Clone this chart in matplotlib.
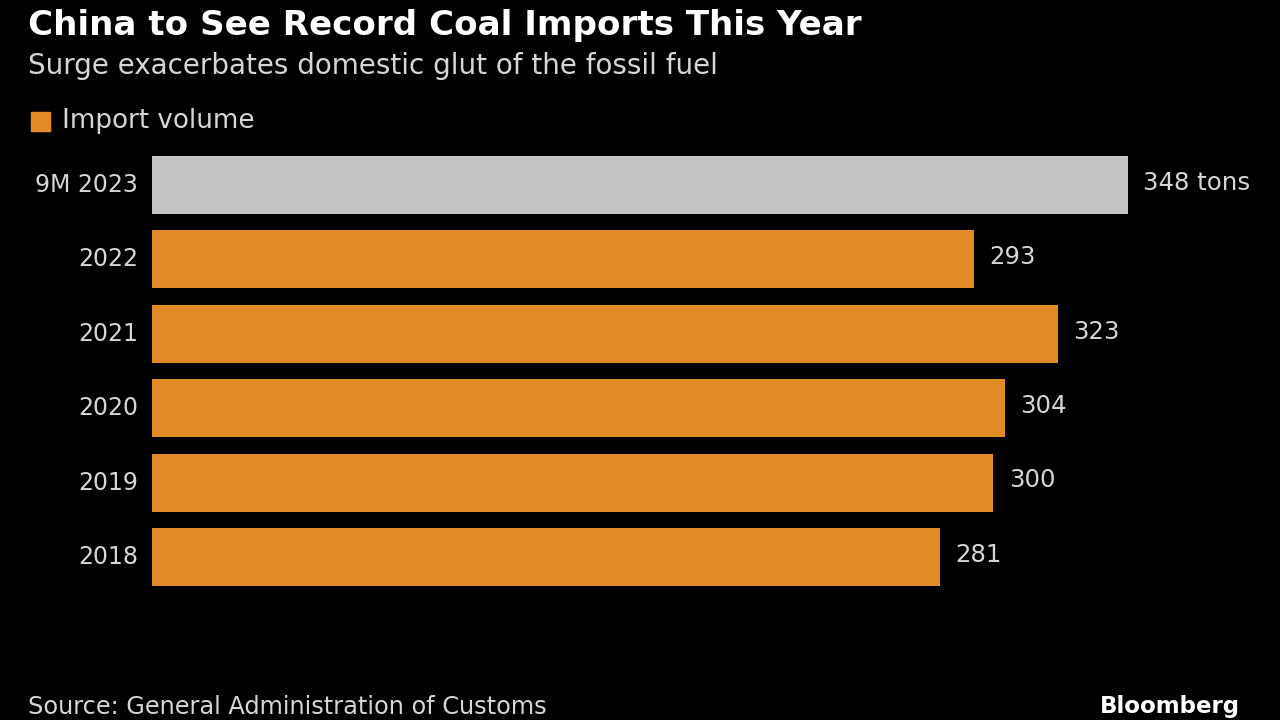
import matplotlib.pyplot as plt
from matplotlib.patches import Rectangle

# data
years = ["9M 2023", "2022", "2021", "2020", "2019", "2018"]
imports = [348, 293, 323, 304, 300, 281]
value_labels = ["348 tons", "293", "323", "304", "300", "281"]

orange = "#E08B26"
gray = "#C4C3C3"
bg = "#000000"
txt = "#D6D6D6"
font = ["DejaVu Sans"]

fig = plt.figure(figsize=(12.8, 7.2), dpi=100, facecolor=bg)
ax = fig.add_axes([152 / 1280, 1 - 594.2 / 720, 976 / 1280, 446.4 / 720])
ax.set_facecolor(bg)

colors = [gray] + [orange] * (len(years) - 1)
ypos = list(range(len(years)))
ax.barh(ypos, imports, height=0.78, color=colors)

for y, v, lab in zip(ypos, imports, value_labels):
    ax.text(v + 5.5, y - 0.03, lab, va="center", ha="left", color=txt,
            fontsize=17.6, family=font)

ax.set_xlim(0, 348)
ax.set_ylim(len(years) - 0.5, -0.5)
ax.set_yticks(ypos)
ax.set_yticklabels(years, fontsize=17, color=txt, family=font)
ax.tick_params(axis="y", length=0, pad=10)
for lbl in ax.get_yticklabels():
    lbl.set_verticalalignment("center")
ax.set_xticks([])
for s in ax.spines.values():
    s.set_visible(False)

# titles
fig.text(28 / 1280, 1 - 25 / 720, "China to See Record Coal Imports This Year",
         color="white", fontsize=24.6, fontweight="bold", va="center", ha="left",
         family=font)
fig.text(28 / 1280, 1 - 66 / 720, "Surge exacerbates domestic glut of the fossil fuel",
         color=txt, fontsize=20, va="center", ha="left", family=font)

# legend
fig.patches.append(Rectangle((31 / 1280, 1 - 131 / 720), 19 / 1280, 19 / 720,
                             transform=fig.transFigure, color=orange))
fig.text(62 / 1280, 1 - 121 / 720, "Import volume", color=txt, fontsize=18.8,
         va="center", ha="left", family=font)

# footer
fig.text(28 / 1280, 1 - 707 / 720, "Source: General Administration of Customs",
         color=txt, fontsize=17.3, va="center", ha="left", family=font)
fig.text(1240 / 1280, 1 - 706 / 720, "Bloomberg", color="white", fontsize=16.5,
         fontweight="bold", va="center", ha="right", family=font)

fig.savefig("out.png", dpi=100, facecolor=bg)
